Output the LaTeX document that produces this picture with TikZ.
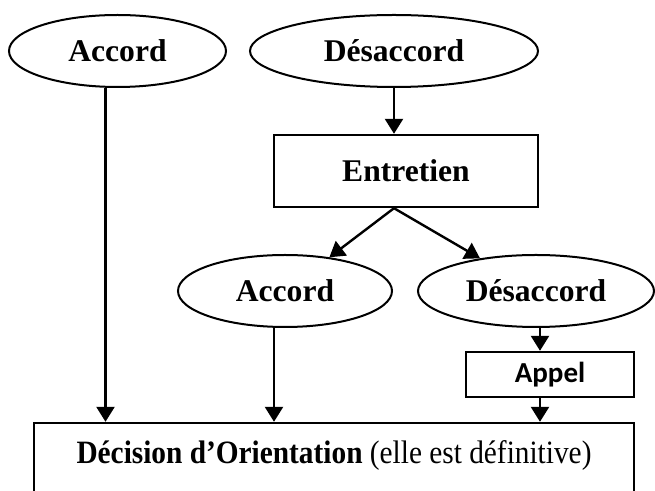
\documentclass[tikz,border=0pt]{standalone}
\usepackage{fontspec}
\setmainfont{Liberation Serif}
\newfontfamily\appelfont{Carlito}
\newfontfamily\decfont[FakeStretch=0.9]{Liberation Serif}
\usepackage{tikz}
\usetikzlibrary{shapes.geometric}
\usetikzlibrary{arrows.meta}

\begin{document}
\begin{tikzpicture}[x=0.5pt, y=-0.5pt, line width=1pt,
        bulle/.style={draw, ellipse, inner sep=0pt, minimum height=36pt,
            font=\fontsize{15.8}{19}\selectfont\bfseries},
        cadre/.style={draw, rectangle, inner sep=0pt, line width=1.2pt},
        fleche/.style={line width=1.2pt, -{Triangle[width=9pt, length=7.5pt]}}]
        \useasboundingbox (0, 0) rectangle (655, 491);

        \node[bulle, minimum width=108.5pt] (acc1) at (117.5, 51) {Accord};
        \node[bulle, minimum width=144pt] (des1) at (394, 51) {Désaccord};
        \node[cadre, minimum width=132pt, minimum height=36pt,
            font=\fontsize{15.8}{19}\selectfont\bfseries] (ent) at (406, 171) {Entretien};
        \node[bulle, minimum width=107pt] (acc2) at (285, 291) {Accord};
        \node[bulle, minimum width=118pt] (des2) at (536, 291) {Désaccord};
        \node[cadre, minimum width=84pt, minimum height=22.5pt,
            font=\fontsize{14.5}{17}\appelfont\bfseries] (appel) at (550, 374.5) {Appel};
        \node[cadre, minimum width=300pt, minimum height=45pt,
            text height=12pt, text depth=16pt,
            font=\fontsize{16.3}{19}\decfont] (dec) at (334, 468)
            {\textbf{Décision d’Orientation} (elle est définitive)};

        \draw[fleche] ([xshift=-6pt]acc1.south) -- ([xshift=-6pt]acc1.south |- dec.north);
        \draw[fleche] (des1.south) -- (des1.south |- ent.north);
        \draw[fleche] (des1.south |- ent.south) -- (acc2);
        \draw[fleche] (des1.south |- ent.south) -- (des2);
        \draw[fleche] ([xshift=-5.5pt]acc2.south) -- ([xshift=-5.5pt]acc2.south |- dec.north);
        \draw[fleche] ([xshift=-5pt]appel.north |- des2.south) -- ([xshift=-5pt]appel.north);
        \draw[fleche] ([xshift=-5pt]appel.south) -- ([xshift=-5pt]appel.south |- dec.north);
\end{tikzpicture}
\end{document}
